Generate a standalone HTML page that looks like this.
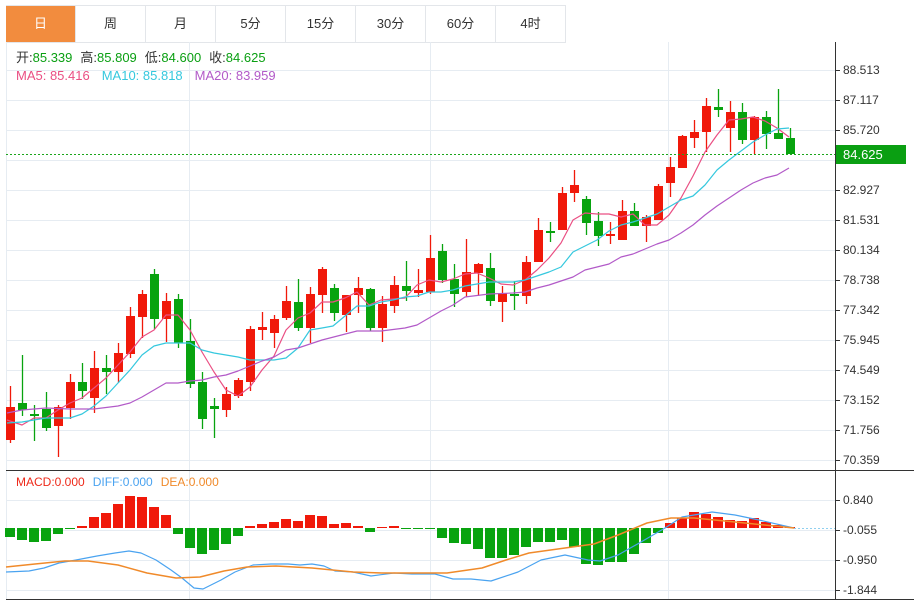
<!DOCTYPE html>
<html><head><meta charset="utf-8"><style>
body{margin:0;background:#fff;width:914px;height:601px;overflow:hidden;font-family:"Liberation Sans","Noto Sans CJK SC",sans-serif}
.tabs{position:absolute;left:6px;top:5px;height:36px;display:flex;border-top:1px solid #e3e6ea}
.tab{width:69px;height:36px;line-height:36px;text-align:center;font-size:13px;color:#333;border-right:1px solid #e3e6ea;border-bottom:1px solid #e3e6ea}
.tab.on{background:#f28c3e;color:#fff}
svg{position:absolute;left:0;top:0}
</style></head><body>
<div class="tabs"><div class="tab on">日</div><div class="tab">周</div><div class="tab">月</div><div class="tab">5分</div><div class="tab">15分</div><div class="tab">30分</div><div class="tab">60分</div><div class="tab">4时</div></div>
<svg id="s" width="914" height="601" style="top:0">
<g id="grid" stroke="#e6ecf2" stroke-width="1"></g>
<g id="c"></g>
<g id="m"></g>
<line x1="835.5" y1="42" x2="835.5" y2="600" stroke="#333"/>
<line x1="6" y1="470.5" x2="914" y2="470.5" stroke="#333"/>
<line x1="6" y1="599.5" x2="914" y2="599.5" stroke="#333"/>
<line x1="6" y1="154.5" x2="835" y2="154.5" stroke="#1aa51a" stroke-dasharray="2,2"/>
<g font-size="12" fill="#333" id="ax"></g>
<rect x="836" y="145" width="70" height="19" fill="#0a9f12"/>
<text x="843" y="159" font-size="13" fill="#fff">84.625</text>
<g font-size="13">
<text x="16" y="62"><tspan fill="#333">开:</tspan><tspan fill="#0a9f12">85.339</tspan><tspan fill="#333" dx="8">高:</tspan><tspan fill="#0a9f12">85.809</tspan><tspan fill="#333" dx="8">低:</tspan><tspan fill="#0a9f12">84.600</tspan><tspan fill="#333" dx="8">收:</tspan><tspan fill="#0a9f12">84.625</tspan></text>
<text x="16" y="80"><tspan fill="#ea4f83">MA5: 85.416</tspan><tspan fill="#35c8de" dx="12">MA10: 85.818</tspan><tspan fill="#b25ac8" dx="12">MA20: 83.959</tspan></text>
</g>
<text x="16" y="486" font-size="12"><tspan fill="#ee2a1a">MACD:0.000</tspan><tspan fill="#4aa3f0" dx="8">DIFF:0.000</tspan><tspan fill="#f08a2a" dx="8">DEA:0.000</tspan></text>
</svg>
<script>
const NS="http://www.w3.org/2000/svg";
function el(p,t,a){const e=document.createElementNS(NS,t);for(const k in a)e.setAttribute(k,a[k]);document.getElementById(p).appendChild(e);return e;}
const labs=["88.513","87.117","85.720","84.324","82.927","81.531","80.134","78.738","77.342","75.945","74.549","73.152","71.756","70.359"];
labs.forEach((l,i)=>{const y=70+30*i;el("grid","line",{x1:6,x2:835,y1:y+.5,y2:y+.5});el("ax","line",{x1:835,x2:840,y1:y+.5,y2:y+.5,stroke:"#333"});const t=el("ax","text",{x:843,y:y+4});t.textContent=l;});
[["0.840",500],["-0.055",530],["-0.950",560],["-1.844",590]].forEach(([l,y])=>{el("grid","line",{x1:6,x2:835,y1:y+.5,y2:y+.5});el("ax","line",{x1:835,x2:840,y1:y+.5,y2:y+.5,stroke:"#333"});const t=el("ax","text",{x:843,y:y+4});t.textContent=l;});
[6.5,189.5,430.5,668.5].forEach(x=>el("grid","line",{x1:x,x2:x,y1:42,y2:599}));
// [bodyTop,bodyBot,wickTop,wickBot,red?]
const C=[[407,440,386,443,1],[403,410,355,416,0],[414,415,405,441,0],[409,428,392,431,0],[407,426,405,457,1],[382,408,374,419,1],[382,391,363,399,0],[368,398,351,413,1],[368,372,355,394,0],[353,372,343,383,1],[316,354,307,358,1],[294,317,290,338,1],[274,319,269,329,0],[301,319,293,342,1],[299,343,294,348,0],[341,384,319,388,0],[382,419,372,429,0],[406,409,398,438,0],[394,410,387,417,1],[380,396,378,398,1],[329,382,326,391,1],[327,330,312,340,1],[319,333,315,348,1],[301,318,286,320,1],[302,328,279,331,0],[294,328,287,343,1],[269,295,267,313,1],[288,313,284,321,0],[295,315,295,332,1],[288,295,277,313,1],[289,328,288,331,0],[304,328,296,342,1],[285,306,276,313,1],[286,291,261,301,0],[290,293,269,297,1],[258,292,235,294,1],[251,280,244,283,0],[279,294,264,307,0],[272,292,239,297,1],[264,273,263,296,1],[268,301,253,306,0],[293,302,286,322,1],[294,296,281,310,0],[262,296,256,304,1],[230,262,218,262,1],[231,232,222,242,0],[193,230,187,230,1],[185,193,170,202,1],[199,223,196,235,0],[221,236,212,246,0],[234,236,222,244,1],[211,240,200,240,1],[211,226,203,226,0],[217,226,215,242,1],[186,220,184,220,1],[167,183,157,197,1],[136,168,135,168,1],[132,138,120,148,1],[106,132,98,152,1],[107,110,89,117,0],[112,128,101,152,1],[112,140,103,144,0],[117,140,116,154,1],[117,134,111,149,0],[133,139,89,139,0],[138,154,128,154,0]];
C.forEach((c,i)=>{const x=10+12*i,col=c[4]?"#f0190a":"#08a30f";el("c","line",{x1:x+.5,x2:x+.5,y1:c[2],y2:c[3],stroke:col,"stroke-width":1.3});el("c","rect",{x:x-4,y:c[0],width:9,height:Math.max(2,c[1]-c[0]),fill:col});});
function pl(pts,col,w){el("m","polyline",{points:pts,fill:"none",stroke:col,"stroke-width":w||1.2,"stroke-linejoin":"round"});}
pl("7,420 22,425 34,418 46,418 58,410 70,403 82,398 94,388 106,378 118,365 130,352 142,337 154,330 166,315 178,315 190,330 202,352 214,372 226,390 238,396 250,387 262,370 274,356 286,330 298,318 310,313 322,302 333,302 345,298 357,292 369,305 381,300 393,299 405,298 417,285 429,280 441,282 453,279 465,274 477,273 489,278 501,284 513,285 525,280 537,270 549,258 561,243 573,220 585,213 597,214 609,214 621,217 633,214 645,225 657,225 669,215 681,198 693,176 705,152 717,135 729,120 741,119 753,117 765,121 777,128 789,137","#ea4f83");
pl("7,423 22,422 34,420 46,418 58,418 70,418 82,414 94,406 106,396 118,383 130,370 142,355 154,346 166,343 178,343 190,343 202,350 214,353 226,355 238,357 250,360 262,360 274,360 286,358 298,348 310,330 322,328 333,326 357,306 369,306 381,302 393,300 405,297 417,296 429,292 441,292 453,290 465,286 477,284 489,282 501,282 513,282 525,280 537,276 549,272 561,267 573,252 585,246 597,240 609,231 621,225 633,222 645,218 657,214 669,207 681,200 693,196 705,185 717,170 729,160 741,151 753,142 765,135 777,129 789,128","#35c8de");
pl("7,413 22,410 46,408 70,409 94,409 118,406 130,403 142,397 154,390 166,383 178,383 190,381 202,380 214,377 226,375 238,371 250,366 262,361 274,357 286,350 298,348 310,344 322,340 357,331 381,331 405,328 417,325 429,318 441,311 453,305 465,297 489,294 513,293 525,292 537,288 549,285 561,281 573,277 585,270 597,267 609,264 621,257 633,254 645,249 657,244 669,240 681,233 693,225 705,215 717,206 729,198 741,190 753,183 765,178 777,175 789,168","#b25ac8");
const H=[537,540,542,541,534,529,526,517,513,504,496,497,507,515,534,548,554,550,544,536,526,524,522,519,521,515,516,524,523,526,532,527,526,528,529,529,538,543,544,549,558,558,555,547,542,542,540,547,564,565,562,562,554,543,533,523,518,512,514,517,520,521,518,522,525,527];
const Z=528;
H.forEach((h,i)=>{const x=10+12*i-5;const up=h<Z;el("c","rect",{x:x,y:Math.min(h,Z),width:10,height:Math.max(1,Math.abs(h-Z)),fill:up?"#f0190a":"#08a30f"});});
el("m","line",{x1:794,x2:835,y1:528.5,y2:528.5,stroke:"#8fd0f0","stroke-dasharray":"2,2"});
pl("6,572 29,571 44,568 59,563 76,560 97,556 115,553 129,551 141,553 156,560 171,570 182,578 194,588 203,589 221,580 235,572 253,565 271,564 288,564 300,565 312,564 324,566 335,571 353,572 371,576 394,573 412,574 435,574 453,579 471,579 491,581 518,572 541,560 565,555 588,560 600,561 618,555 641,542 665,528 682,517 712,512 735,515 759,520 794,528","#4aa3f0");
pl("6,567 35,564 65,561 88,561 118,565 147,573 176,578 200,577 224,571 247,567 276,566 312,568 353,572 382,573 447,573 482,568 506,560 529,553 565,548 594,544 618,535 647,523 671,518 694,518 735,522 794,528","#f08a2a",1.5);
</script>
</body></html>
